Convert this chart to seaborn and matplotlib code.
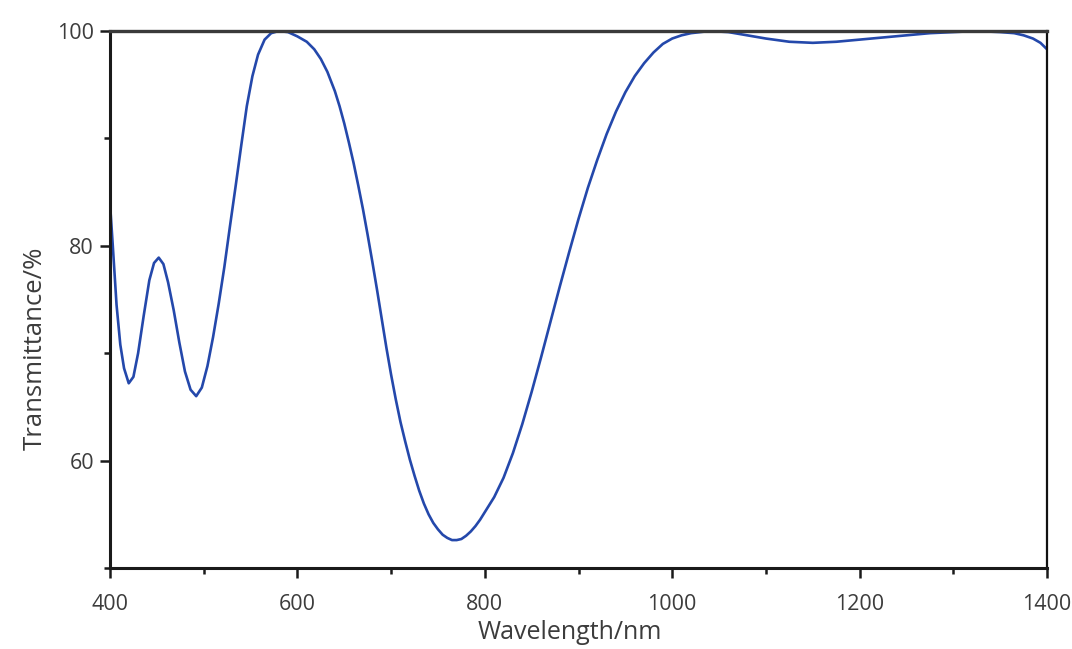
import numpy as np
import pandas as pd
import matplotlib.pyplot as plt
import seaborn as sns
from matplotlib.ticker import MultipleLocator

# spectrum
wavelength = [400, 403, 407, 411, 415, 420, 425, 430, 436, 442, 447, 452, 457, 462,
              468, 474, 480, 486, 492, 498, 504, 510, 516, 522, 528, 534, 540, 546,
              552, 558, 565, 572, 580, 590, 600, 610, 618, 625, 632, 640, 645, 650,
              655, 660, 665, 670, 675, 680, 685, 690, 695, 700, 705, 710, 715, 720,
              725, 730, 735, 740, 745, 750, 755, 760, 765, 770, 775, 780, 785, 790,
              795, 800, 810, 820, 830, 840, 850, 860, 870, 880, 890, 900, 910, 920,
              930, 940, 950, 960, 970, 980, 990, 1000, 1010, 1020, 1030, 1040, 1060,
              1080, 1100, 1125, 1150, 1175, 1200, 1225, 1250, 1275, 1300, 1325, 1350,
              1365, 1375, 1385, 1393, 1400]
transmittance = [84.0, 80.0, 74.5, 70.8, 68.6, 67.2, 67.8, 70.0, 73.5, 76.8, 78.4, 78.9,
                 78.3, 76.6, 74.0, 71.0, 68.3, 66.6, 66.0, 66.8, 68.8, 71.5, 74.6, 78.0,
                 81.8, 85.5, 89.3, 93.0, 95.8, 97.8, 99.2, 99.8, 100.0, 99.9, 99.5, 99.0,
                 98.3, 97.4, 96.2, 94.4, 93.0, 91.4, 89.6, 87.7, 85.6, 83.4, 81.0, 78.5,
                 75.9, 73.2, 70.5, 68.0, 65.7, 63.6, 61.8, 60.1, 58.6, 57.2, 56.0, 55.0,
                 54.2, 53.6, 53.1, 52.8, 52.6, 52.6, 52.7, 53.0, 53.4, 53.9, 54.5, 55.2,
                 56.6, 58.4, 60.7, 63.4, 66.4, 69.6, 72.9, 76.2, 79.4, 82.5, 85.4, 88.0,
                 90.4, 92.5, 94.3, 95.8, 97.0, 98.0, 98.8, 99.3, 99.6, 99.8, 99.9, 100.0,
                 99.9, 99.6, 99.3, 99.0, 98.9, 99.0, 99.2, 99.4, 99.6, 99.8, 99.9, 100.0,
                 99.9, 99.8, 99.6, 99.3, 98.9, 98.3]

df = pd.DataFrame({"wl": wavelength, "T": transmittance})

sns.set_style("ticks")
plt.rcParams['font.family'] = ['Open Sans', 'DejaVu Sans']

fig = plt.figure(figsize=(10.72, 6.49), dpi=100)
ax = fig.add_axes([0.1026, 0.1248, 0.8741, 0.8274])

sns.lineplot(data=df, x="wl", y="T", ax=ax, color="#2448ab", linewidth=1.9,
             sort=False, zorder=2)

ax.set_xlim(400, 1400)
ax.set_ylim(50, 100)
ax.xaxis.set_major_locator(MultipleLocator(200))
ax.xaxis.set_minor_locator(MultipleLocator(100))
ax.yaxis.set_major_locator(MultipleLocator(20))
ax.yaxis.set_minor_locator(MultipleLocator(10))

for side in ["left", "bottom"]:
    ax.spines[side].set_linewidth(2.2)
    ax.spines[side].set_color("#1a1a1a")
ax.spines["top"].set_linewidth(2.4)
ax.spines["top"].set_color("#3a3a3a")
ax.spines["right"].set_linewidth(1.6)
ax.spines["right"].set_color("#111111")
for s in ax.spines.values():
    s.set_zorder(3)

ax.tick_params(which="major", direction="out", length=7.5, width=1.8,
               color="#1a1a1a", labelsize=15.5, labelcolor="#3c3c3c", pad=4)
ax.tick_params(which="minor", direction="out", length=4.5, width=1.8, color="#1a1a1a")
ax.tick_params(axis="x", which="major", pad=11)

ax.set_xlabel("Wavelength/nm", fontsize=18, color="#3c3c3c")
ax.set_ylabel("Transmittance/%", fontsize=18.5, color="#3c3c3c")
ax.xaxis.set_label_coords(0.491, -0.097)
ax.yaxis.set_label_coords(-0.066, 0.41)

fig.savefig("out.png", dpi=100)
